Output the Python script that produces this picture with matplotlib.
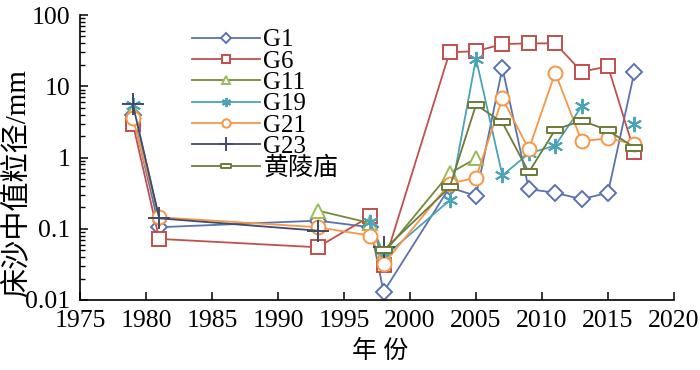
import matplotlib
matplotlib.use('Agg')
import matplotlib.pyplot as plt
import numpy as np
from matplotlib.path import Path

nan = np.nan

# sampling years
years = [1979, 1981, 1993, 1997, 1998, 2003, 2005, 2007, 2009, 2011, 2013, 2015, 2017]

# median bed grain size (mm) per site
g1 = [4.0, 0.105, 0.13, 0.105, 0.013, 0.38, 0.29, 18, 0.36, 0.32, 0.26, 0.32, 16]
g6 = [3.0, 0.072, 0.055, 0.15, 0.031, 30, 31, 39, 40, 40, 16, 19, 1.2]
g11 = [4.5, nan, 0.18, 0.12, 0.045, 0.6, 0.97, nan, nan, nan, nan, nan, nan]
g19 = [5.5, 0.14, nan, 0.125, 0.04, 0.25, 24.5, 0.56, 1.14, 1.47, 5.2, nan, 3.0]
g21 = [3.6, 0.145, 0.105, 0.08, 0.032, 0.43, 0.52, 6.8, 1.3, 15.5, 1.7, 1.85, 1.55]
g23 = [5.6, 0.14, 0.094, nan, 0.055, nan, nan, nan, nan, nan, nan, nan, nan]
hlm = [nan, nan, nan, nan, 0.05, 0.38, 5.5, 3.1, 0.62, 2.45, 3.3, 2.4, 1.38]

labels = ['G1', 'G6', 'G11', 'G19', 'G21', 'G23', '黄陵庙']

fonts = ['Liberation Serif', 'Noto Sans CJK SC', 'DejaVu Sans']
plt.rcParams['font.family'] = fonts
plt.rcParams['font.size'] = 18

# flat rectangle marker for 黄陵庙
rect = Path([(-1, -0.4), (1, -0.4), (1, 0.4), (-1, 0.4), (-1, -0.4)],
            [Path.MOVETO, Path.LINETO, Path.LINETO, Path.LINETO, Path.CLOSEPOLY])

styles = [
    (g1, '#5B72B0', '#5B72B0', 'D', 8),
    (g6, '#C0504D', '#C0504D', 's', 9.5),
    (g11, '#77883A', '#9BBB59', '^', 9.5),
    (g19, '#4BA3B8', '#4BA3B8', (6, 2, 0), 11),
    (g21, '#F79646', '#F79646', 'o', 10),
    (g23, '#404A6A', '#404A6A', '+', 16),
    (hlm, '#6B7B38', '#6B7B38', rect, 11),
]

fig = plt.figure(figsize=(7, 3.7), dpi=100)
ax = fig.add_axes([80 / 700, 1 - 300 / 370, 594 / 700, 285 / 370])

for (vals, lc, mc, mk, ms), lab in zip(styles, labels):
    ax.plot(years, vals, color=lc, lw=1.3, marker=mk, markersize=ms,
            markerfacecolor='white', markeredgecolor=mc, markeredgewidth=1.4,
            label=lab)

ax.set_yscale('log')
ax.set_xlim(1975, 2020)
ax.set_ylim(0.01, 100)
ax.set_xticks(np.arange(1975, 2021, 5))
ax.set_yticks([0.01, 0.1, 1, 10, 100])
ax.set_yticklabels(['0.01', '0.1', '1', '10', '100'])

ax.spines['top'].set_visible(False)
ax.spines['right'].set_visible(False)
for s in ['left', 'bottom']:
    ax.spines[s].set_linewidth(1.2)
ax.tick_params(direction='in', which='major', length=6, width=1.1, labelsize=18.5)
ax.tick_params(direction='in', which='minor', length=3.5, width=1.0)
ax.tick_params(axis='x', pad=7)
ax.tick_params(axis='y', pad=7)

ax.set_ylabel('床沙中值粒径/mm', fontsize=21)
ax.yaxis.set_label_coords(-0.082, 0.41)
ax.set_xlabel('年 份', fontsize=18)
ax.xaxis.set_label_coords(0.505, -0.14)

ax.legend(loc='upper left', bbox_to_anchor=(192 / 700, 1 - 29 / 370),
          bbox_transform=fig.transFigure, frameon=False, borderpad=0,
          borderaxespad=0, handlelength=2.7, handletextpad=0.15,
          labelspacing=-0.05, markerscale=0.6, fontsize=18)

plt.savefig('out.png', dpi=100)
